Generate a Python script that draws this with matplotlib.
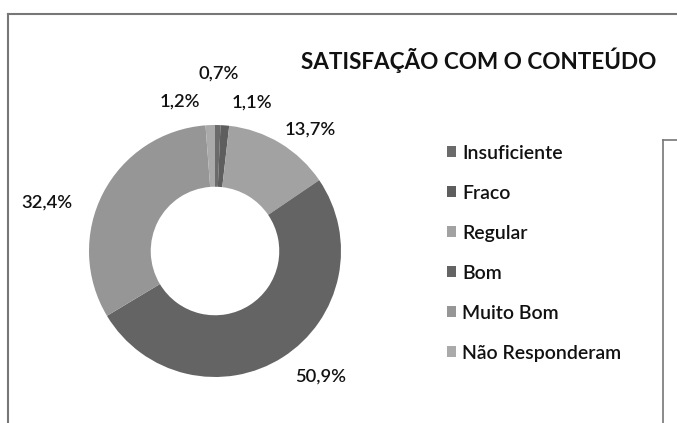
import numpy as np
import matplotlib
matplotlib.use("Agg")
import matplotlib.pyplot as plt
from matplotlib.lines import Line2D

categories = ["Insuficiente", "Fraco", "Regular", "Bom", "Muito Bom", "Não Responderam"]
values = [0.7, 1.1, 13.7, 50.9, 32.4, 1.2]
label_texts = ["0,7%", "1,1%", "13,7%", "50,9%", "32,4%", "1,2%"]
title = "SATISFAÇÃO COM O CONTEÚDO"

colors = ["#6b6b6b", "#5e5e5e", "#a2a2a2", "#646464", "#969696", "#aaaaaa"]
label_r = [1.41, 1.21, 1.23, 1.30, 1.39, 1.22]
label_dang = [0.0, -9.5, -7.0, 7.4, 11.4, 11.0]

W, H = 677, 423
fig = plt.figure(figsize=(W / 100, H / 100), dpi=100)
fig.patch.set_facecolor("white")
ax = fig.add_axes([0, 0, 1, 1])

cx, cy, R = 215, H - 251, 126
wedges, _ = ax.pie(values, colors=colors, startangle=90, counterclock=False,
                   center=(cx, cy), radius=R,
                   wedgeprops=dict(width=R * 0.49, edgecolor="none"))
ax.set_xlim(0, W)
ax.set_ylim(0, H)
ax.set_aspect("equal")
ax.axis("off")

font = "Lato"
wt = "semibold"
total = sum(values)
cum = 0.0
for v, t, r, da in zip(values, label_texts, label_r, label_dang):
    mid = 90 - (cum + v / 2) / total * 360 + da
    cum += v
    x = cx + R * r * np.cos(np.radians(mid))
    y = cy + R * r * np.sin(np.radians(mid))
    ax.text(x, y, t, ha="center", va="center", fontsize=13.2, family=font, weight=wt, color="#111111")

fig.text(479 / W, 1 - 60 / H, title, ha="center", va="center", fontsize=16.2,
         fontweight="bold", family=font, color="#111111")

leg = ax.legend(wedges, categories, loc="upper left", bbox_to_anchor=(439 / W, 1 - 137 / H),
                frameon=False, prop=dict(family=font, size=14, weight=wt), labelspacing=1.18,
                handlelength=0.5, handleheight=0.5, handletextpad=0.3, borderaxespad=0)
for t in leg.get_texts():
    t.set_color("#111111")

# outer frame
fig.add_artist(Line2D([8 / W, 8 / W], [0, 1 - 14 / H], transform=fig.transFigure, color="#777777", lw=1.5))
fig.add_artist(Line2D([8 / W, 1], [1 - 14 / H, 1 - 14 / H], transform=fig.transFigure, color="#777777", lw=1.5))
# right inner box
fig.add_artist(Line2D([663 / W, 663 / W], [0, 1 - 140 / H], transform=fig.transFigure, color="#777777", lw=1.2))
fig.add_artist(Line2D([663 / W, 1], [1 - 140 / H, 1 - 140 / H], transform=fig.transFigure, color="#777777", lw=1.2))

fig.savefig("out.png", dpi=100, facecolor="white")
